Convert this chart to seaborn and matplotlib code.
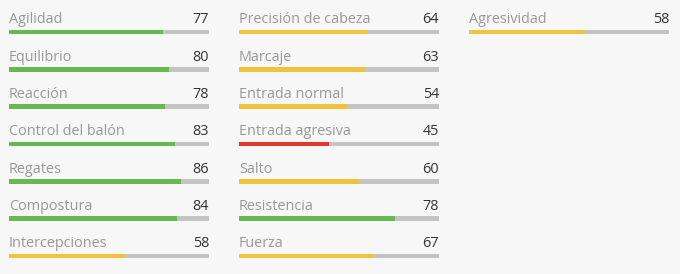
import matplotlib
matplotlib.use("Agg")
import matplotlib.pyplot as plt
import seaborn as sns
import pandas as pd

col1_labels = ["Agilidad", "Equilibrio", "Reacción", "Control del balón", "Regates", "Compostura", "Intercepciones"]
col1_values = [77, 80, 78, 83, 86, 84, 58]
col2_labels = ["Precisión de cabeza", "Marcaje", "Entrada normal", "Entrada agresiva", "Salto", "Resistencia", "Fuerza"]
col2_values = [64, 63, 54, 45, 60, 78, 67]
col3_labels = ["Agresividad"]
col3_values = [58]
max_value = 100

GREEN = "#66b84f"
YELLOW = "#f0c33c"
RED = "#e0392b"
TRACK = "#c4c4c4"
BG = "#f7f7f7"
LABEL_C = "#999999"
VALUE_C = "#333333"


def bar_color(v):
    if v >= 70:
        return GREEN
    if v >= 50:
        return YELLOW
    return RED


sns.set_theme(style="white")
plt.rcParams["font.family"] = ["Open Sans", "DejaVu Sans"]

W, H = 680, 274
fig = plt.figure(figsize=(W / 100, H / 100), dpi=100, facecolor=BG)

pitch = 37.33
first_bar = 32.0
col_lefts = [9, 239, 469]
col_width = 200
FS = 10.4

columns = [(col1_labels, col1_values), (col2_labels, col2_values), (col3_labels, col3_values)]

for left, (labels, values) in zip(col_lefts, columns):
    ax = fig.add_axes([left / W, 0, col_width / W, 1])
    ax.set_facecolor("none")
    df = pd.DataFrame({"label": labels, "value": values})
    df["track"] = max_value
    sns.barplot(data=df, x="track", y="label", order=labels, color=TRACK,
                width=0.12, saturation=1, linewidth=0, ax=ax, orient="h")
    pal = {l: bar_color(v) for l, v in zip(labels, values)}
    sns.barplot(data=df, x="value", y="label", order=labels, hue="label",
                palette=pal, legend=False, width=0.12, saturation=1, linewidth=0,
                ax=ax, orient="h")
    ax.set_xlim(0, max_value)
    ax.set_ylim((H - first_bar) / pitch, -first_bar / pitch)
    for i, (l, v) in enumerate(zip(labels, values)):
        ax.text(0, i - 8.8 / pitch, l, ha="left", va="baseline", fontsize=FS, color=LABEL_C)
        ax.text(max_value, i - 8.8 / pitch, str(v), ha="right", va="baseline", fontsize=FS, color=VALUE_C)
    ax.axis("off")

fig.savefig("out.png", dpi=100, facecolor=BG)
